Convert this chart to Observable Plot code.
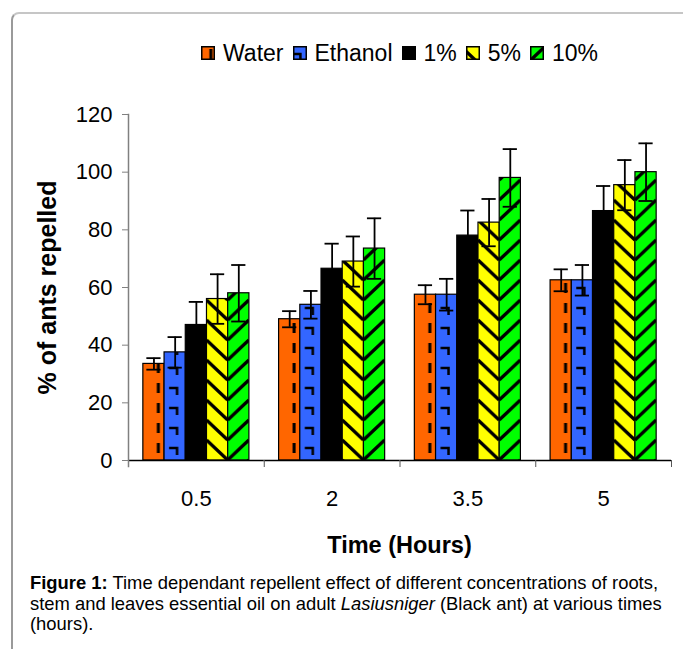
<!DOCTYPE html>
<html><head><meta charset="utf-8">
<script src="https://cdn.jsdelivr.net/npm/d3@7"></script>
<script src="https://cdn.jsdelivr.net/npm/@observablehq/plot@0.6"></script>
<style>
body{margin:0;width:683px;height:653px;position:relative;overflow:hidden;background:#fff;font-family:"Liberation Sans",Arial,sans-serif;color:#000}
#frame{position:absolute;left:11px;top:12px;width:700px;height:637px;border-top:2px solid #c6c6c6;border-left:2px solid #9a9a9a;border-top-left-radius:8px;box-sizing:border-box}
#legend{position:absolute;left:201px;top:40px;display:flex;align-items:center;font-size:23px;line-height:26px;white-space:nowrap}
#legend .item{display:flex;align-items:center;margin-right:9px}
#legend svg{margin-right:8px}
#chart{position:absolute;left:0;top:80px}
#xtitle{position:absolute;left:128px;width:543px;top:532px;text-align:center;font-weight:bold;font-size:23.5px;line-height:26px}
#caption{position:absolute;left:30px;top:573px;font-size:18.4px;line-height:20.5px;white-space:nowrap}
</style></head>
<body>
<svg width="0" height="0" style="position:absolute">
<defs>
<pattern id="pWater" patternUnits="userSpaceOnUse" x="142.85" y="0" width="21.21" height="20">
<rect width="21.21" height="20" fill="#FF6600"/><rect x="14" y="3" width="3" height="10" fill="#000"/>
</pattern>
<pattern id="pEthanol" patternUnits="userSpaceOnUse" x="142.85" y="0" width="21.21" height="20">
<rect width="21.21" height="20" fill="#3366FF"/><path d="M5,8h8v7" stroke="#000" stroke-width="2.5" fill="none"/>
</pattern>
<pattern id="p5" patternUnits="userSpaceOnUse" x="142.85" y="0" width="21.21" height="20">
<rect width="21.21" height="20" fill="#FFFF00"/>
<path d="M0,-20L21.21,0M0,0L21.21,20M0,20L21.21,40" stroke="#000" stroke-width="3.4"/>
</pattern>
<pattern id="p10" patternUnits="userSpaceOnUse" x="142.85" y="0" width="21.21" height="20">
<rect width="21.21" height="20" fill="#00FF00"/>
<path d="M0,0L21.21,-20M0,20L21.21,0M0,40L21.21,20" stroke="#000" stroke-width="3.4"/>
</pattern>
</defs>
</svg>
<div id="frame"></div>
<div id="legend"></div>
<div id="chart"></div>
<div id="xtitle">Time (Hours)</div>
<div id="caption"><b>Figure 1:</b> Time dependant repellent effect of different concentrations of roots,<br>stem and leaves essential oil on adult <i>Lasiusniger</i> (Black ant) at various times<br>(hours).</div>
<script>
const times = ["0.5", "2", "3.5", "5"];
const series = ["Water", "Ethanol", "1%", "5%", "10%"];
const water   = [33.5, 49, 57.5, 62.5];
const ethanol = [37.5, 54, 57.5, 62.5];
const conc1   = [47, 66.5, 78, 86.5];
const conc5   = [56, 69, 82.5, 95.5];
const conc10  = [58, 73.5, 98, 100];
const waterErr   = [2, 2.8, 3.3, 3.8];
const ethanolErr = [5.3, 4.8, 5.5, 5.3];
const conc1Err   = [8, 8.7, 8.7, 8.7];
const conc5Err   = [8.6, 8.7, 8.2, 8.7];
const conc10Err  = [9.8, 10.5, 10, 10];
const yTicks = [0, 20, 40, 60, 80, 100, 120];
const yLabel = "% of ants repelled";

const fills = ["url(#pWater)", "url(#pEthanol)", "#000000", "url(#p5)", "url(#p10)"];
const means = [water, ethanol, conc1, conc5, conc10];
const errs = [waterErr, ethanolErr, conc1Err, conc5Err, conc10Err];
const table = [];
times.forEach((t, i) => series.forEach((s, j) =>
  table.push({time: t, series: s, value: means[j][i], err: errs[j][i]})));

// legend
const legend = document.getElementById("legend");
series.forEach((s, j) => {
  const item = document.createElement("div");
  item.className = "item";
  item.innerHTML = `<svg width="14" height="14"><rect x="0.75" y="0.75" width="12.5" height="12.5" fill="${fills[j]}" stroke="#000" stroke-width="1.5"/></svg><span>${s}</span>`;
  legend.appendChild(item);
});

const chart = Plot.plot({
  width: 683, height: 440,
  marginLeft: 128, marginRight: 12, marginTop: 34, marginBottom: 60,
  style: {fontFamily: "'Liberation Sans', Arial, sans-serif", color: "#000", background: "transparent", overflow: "visible"},
  fx: {domain: times, padding: 0, round: false, label: null},
  x: {domain: series, paddingInner: 0, paddingOuter: 0.7, round: false, axis: null},
  y: {domain: [0, 120], axis: null},
  color: {domain: series, range: fills},
  marks: [
    Plot.barY(table, {fx: "time", x: "series", y: "value", fill: "series", stroke: "#000", strokeWidth: 1.2}),
    Plot.ruleX(table, {fx: "time", x: "series", y1: d => d.value - d.err, y2: d => d.value + d.err, stroke: "#000", strokeWidth: 1.8}),
    Plot.tickY(table, {fx: "time", x: "series", y: d => d.value + d.err, inset: 3.5, stroke: "#000", strokeWidth: 1.8}),
    Plot.tickY(table, {fx: "time", x: "series", y: d => d.value - d.err, inset: 3.5, stroke: "#000", strokeWidth: 1.8}),
    Plot.ruleY([0], {stroke: "#000", strokeWidth: 1.3}),
    Plot.frame({anchor: "left", facetAnchor: "left", stroke: "#808080", strokeWidth: 1.5, insetBottom: -6}),
    Plot.frame({anchor: "right", stroke: "#555", strokeWidth: 1, insetTop: 346, insetBottom: -6}),
    Plot.axisY({ticks: yTicks, tickSize: 6, tickPadding: 10, fontSize: 22, stroke: "#808080", fill: "#000", label: null}),
    Plot.axisFx({anchor: "bottom", tickSize: 0, tickPadding: 30, fontSize: 22, label: null}),
    Plot.text([yLabel], {frameAnchor: "left", textAnchor: "middle", dx: -81, rotate: -90, fontSize: 25, fontWeight: "bold", fill: "#000", facetAnchor: "left"})
  ]
});
// make sure tick labels get the intended size
chart.querySelectorAll("text").forEach(t => {
  const g = t.closest("g[aria-label]");
  const lab = g ? g.getAttribute("aria-label") : "";
  if (lab && lab.includes("axis")) t.style.fontSize = "22px";
});
document.getElementById("chart").appendChild(chart);
</script>
</body></html>
